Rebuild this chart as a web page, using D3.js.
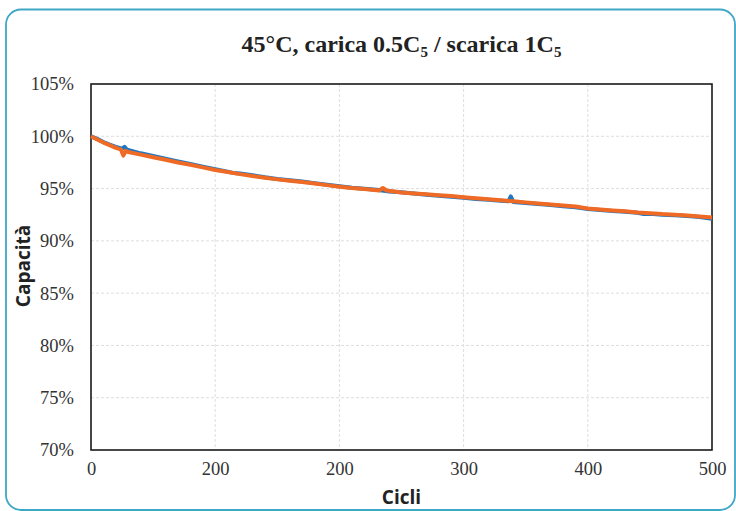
<!DOCTYPE html>
<html><head><meta charset="utf-8">
<script src="https://cdn.jsdelivr.net/npm/d3@7"></script>
<style>body{margin:0;background:#fff}svg{display:block}</style>
</head><body><svg id="c" width="736" height="511"></svg>
<script>
const xTickValues = [0,100,200,300,400,500];
const xTickLabels = ["0","200","200","300","400","500"];
const yTickValues = [70,75,80,85,90,95,100,105];

const orangeCycles = [0,5,10,15,20,24,26,28,30,40,50,60,70,80,90,100,110,120,130,140,150,160,170,180,190,200,210,220,232,235,238,250,260,270,280,290,300,310,320,330,340,350,360,370,380,390,400,410,420,430,440,450,460,470,480,490,500];
const orangeValues = [100.0,99.7,99.4,99.15,98.9,98.75,98.15,98.6,98.5,98.25,98.0,97.75,97.5,97.27,97.03,96.78,96.58,96.38,96.2,96.03,95.88,95.75,95.62,95.48,95.33,95.18,95.05,94.95,94.82,95.05,94.82,94.62,94.53,94.45,94.36,94.28,94.18,94.08,93.98,93.88,93.78,93.68,93.58,93.48,93.38,93.28,93.1,93.0,92.9,92.82,92.72,92.65,92.56,92.5,92.42,92.33,92.24];

const blueCycles = [0,5,10,15,20,25,27,29,35,40,50,60,70,80,90,100,110,115,120,130,140,150,160,170,180,190,200,210,220,230,240,250,260,270,280,290,300,310,320,330,336,338,340,350,360,370,380,390,400,410,420,430,440,445,450,460,470,480,490,500];
const blueValues = [100.0,99.75,99.45,99.2,98.98,98.82,99.0,98.72,98.52,98.37,98.12,97.86,97.6,97.36,97.1,96.85,96.62,96.48,96.45,96.27,96.08,95.92,95.8,95.68,95.52,95.36,95.22,95.08,94.98,94.88,94.72,94.64,94.52,94.42,94.32,94.22,94.12,94.0,93.92,93.84,93.78,94.25,93.72,93.62,93.52,93.42,93.32,93.22,93.05,92.95,92.86,92.78,92.68,92.56,92.58,92.5,92.45,92.38,92.28,92.12];

const svg = d3.select("#c");
const m = {l:91, r:712, t:84, b:450};
const x = d3.scaleLinear().domain([0,500]).range([m.l,m.r]);
const y = d3.scaleLinear().domain([70,105]).range([m.b,m.t]);

// outer rounded frame
svg.append("rect").attr("x",6).attr("y",9.5).attr("width",729).attr("height",500.5)
  .attr("rx",15).attr("fill","none").attr("stroke","#3ea7c6").attr("stroke-width",1.8);

// gridlines
svg.append("g").selectAll("line").data(yTickValues.slice(1,-1)).join("line")
  .attr("x1",m.l).attr("x2",m.r).attr("y1",d=>y(d)).attr("y2",d=>y(d))
  .attr("stroke","#dedede").attr("stroke-width",1).attr("stroke-dasharray","3,2");
svg.append("g").selectAll("line").data(xTickValues.slice(1,-1)).join("line")
  .attr("y1",m.t).attr("y2",m.b).attr("x1",d=>x(d)).attr("x2",d=>x(d))
  .attr("stroke","#dedede").attr("stroke-width",1).attr("stroke-dasharray","3,2");

// axes via d3
const yAxis = d3.axisLeft(y).tickValues(yTickValues).tickSize(0).tickPadding(17).tickFormat(d=>d+"%");
const gy = svg.append("g").attr("transform",`translate(${m.l},0)`).call(yAxis);
gy.select(".domain").remove();
gy.selectAll("text").attr("font-family","'Liberation Serif','Times New Roman',serif").attr("font-size",18.5).attr("fill","#333");

const xAxis = d3.axisBottom(x).tickValues(xTickValues).tickSize(0).tickPadding(12).tickFormat((d,i)=>xTickLabels[i]);
const gx = svg.append("g").attr("transform",`translate(0,${m.b})`).call(xAxis);
gx.select(".domain").remove();
gx.selectAll("text").attr("font-family","'Liberation Serif','Times New Roman',serif").attr("font-size",18.5).attr("fill","#333");

// plot frame
svg.append("rect").attr("x",m.l).attr("y",m.t).attr("width",m.r-m.l).attr("height",m.b-m.t)
  .attr("fill","none").attr("stroke","#1a1a1a").attr("stroke-width",1.6);

// lines
const lineGen = d3.line().x(d=>x(d[0])).y(d=>y(d[1]));
const blue = blueCycles.map((c,i)=>[c,blueValues[i]]);
const orange = orangeCycles.map((c,i)=>[c,orangeValues[i]]);
svg.append("path").datum(blue).attr("d",lineGen).attr("fill","none")
  .attr("stroke","#1f77c4").attr("stroke-width",4).attr("stroke-linejoin","round");
svg.append("path").datum(orange).attr("d",lineGen).attr("fill","none")
  .attr("stroke","#ee6a25").attr("stroke-width",4).attr("stroke-linejoin","round");

// title
const t = svg.append("text").attr("x",(m.l+m.r)/2).attr("y",52).attr("text-anchor","middle")
  .attr("font-family","'Liberation Serif','Times New Roman',serif").attr("font-weight","bold")
  .attr("font-size",24).attr("fill","#222");
t.append("tspan").text("45°C, carica 0.5C");
t.append("tspan").attr("font-size",15).attr("dy",5).text("5");
t.append("tspan").attr("dy",-5).text(" / scarica 1C");
t.append("tspan").attr("font-size",15).attr("dy",5).text("5");

// axis titles
svg.append("text").attr("x",(m.l+m.r)/2).attr("y",504).attr("text-anchor","middle")
  .attr("font-family","'Open Sans',sans-serif").attr("font-weight","bold").attr("font-size",19)
  .attr("fill","#222").text("Cicli");
svg.append("text").attr("transform","translate(30,266) rotate(-90)").attr("text-anchor","middle")
  .attr("font-family","'Open Sans',sans-serif").attr("font-weight","bold").attr("font-size",19)
  .attr("fill","#222").text("Capacità");
</script></body></html>
